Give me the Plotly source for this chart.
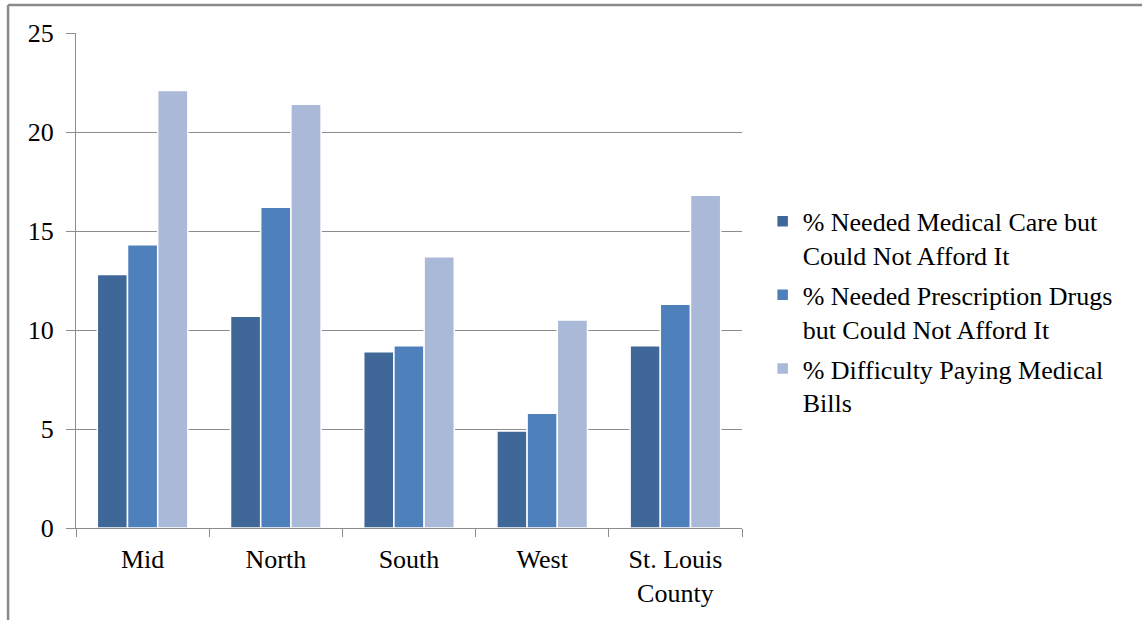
import plotly.graph_objects as go

# Regions and survey measures
regions = ["Mid", "North", "South", "West", "St. Louis<br>County"]
series_names = [
    "% Needed Medical Care but<br>Could Not Afford It",
    "% Needed Prescription Drugs<br>but Could Not Afford It",
    "% Difficulty Paying Medical<br>Bills",
]
medical_care = [12.8, 10.7, 8.9, 4.9, 9.2]
prescription_drugs = [14.3, 16.2, 9.2, 5.8, 11.3]
medical_bills = [22.1, 21.4, 13.7, 10.5, 16.8]

colors = ["#3F6899", "#4E80BC", "#AAB9D7"]
values = [medical_care, prescription_drugs, medical_bills]

FONT = "Liberation Serif"

fig = go.Figure()
for i, (name, vals, col) in enumerate(zip(series_names, values, colors)):
    fig.add_trace(go.Bar(
        x=regions, y=vals, name=name, legendgroup=f"g{i}",
        marker=dict(color=col, line=dict(color="white", width=1.5)),
    ))

axis_grey = "#8C8C8C"
fig.update_layout(
    width=1142, height=620,
    margin=dict(l=76, r=400, t=33, b=92),
    paper_bgcolor="white", plot_bgcolor="white",
    barmode="group", bargap=0.32, bargroupgap=0,
    font=dict(family=FONT, size=26, color="black"),
    showlegend=True,
    legend=dict(
        x=1.031, xanchor="left", y=0.667, yanchor="top",
        valign="top", traceorder="grouped", tracegroupgap=3,
        font=dict(family=FONT, size=26, color="black"),
        bgcolor="rgba(0,0,0,0)", itemclick=False,
    ),
    xaxis=dict(
        type="category", showline=True, linecolor=axis_grey, linewidth=1,
        ticks="outside", tickson="boundaries", ticklen=8, tickcolor=axis_grey,
        ticklabelstandoff=8,
        showgrid=False, tickfont=dict(family=FONT, size=26, color="black"),
    ),
    yaxis=dict(
        range=[0, 25], dtick=5, showline=True, linecolor=axis_grey, linewidth=1,
        ticks="outside", ticklen=9, tickcolor=axis_grey, ticklabelstandoff=7,
        showgrid=True, gridcolor=axis_grey, gridwidth=1, zeroline=False,
        tickfont=dict(family=FONT, size=26, color="black"),
    ),
    shapes=[
        # page frame: top rule and left rule
        dict(type="line", xref="paper", yref="paper",
             x0=-0.102, x1=1.61, y0=1.0566, y1=1.0566,
             line=dict(color="#8A8A8A", width=2.5)),
        dict(type="line", xref="paper", yref="paper",
             x0=-0.102, x1=-0.102, y0=1.0566, y1=-0.2,
             line=dict(color="#8A8A8A", width=2.5)),
    ],
)

fig.write_html("out.html")
